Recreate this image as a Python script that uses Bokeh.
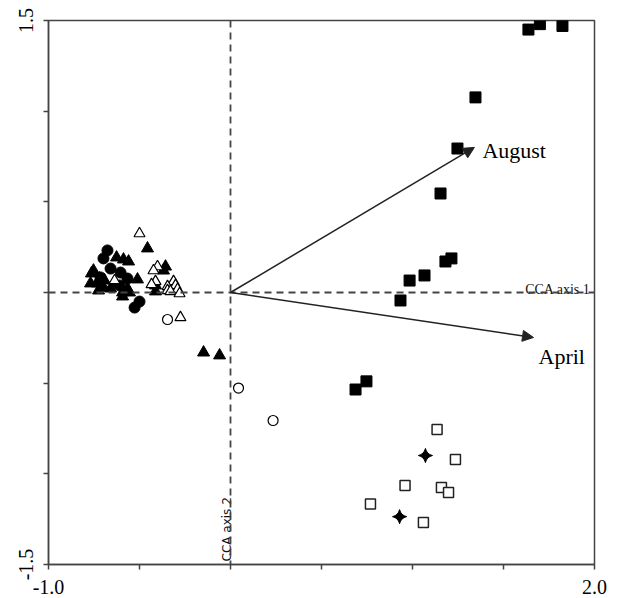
import numpy as np
from bokeh.plotting import figure
from bokeh.models import Span, Arrow, NormalHead, ColumnDataSource, FixedTicker
from bokeh.core.properties import value
from bokeh.embed import file_html
from bokeh.resources import INLINE

# ---- data ----
sq_fill_x = [1.637, 1.70, 1.824, 1.346, 1.247, 1.154, 1.214, 1.181, 1.066, 0.984, 0.934, 0.747, 0.687]
sq_fill_y = [1.45, 1.48, 1.47, 1.076, 0.794, 0.546, 0.188, 0.171, 0.094, 0.066, -0.044, -0.49, -0.535]

sq_open_x = [1.135, 1.236, 0.959, 1.159, 1.198, 0.769, 1.060]
sq_open_y = [-0.756, -0.921, -1.065, -1.076, -1.103, -1.167, -1.269]

star_x = [1.071, 0.929]
star_y = [-0.899, -1.236]

circ_fill_x = [-0.676, -0.698, -0.659, -0.604, -0.566, -0.610, -0.500, -0.527, -0.714]
circ_fill_y = [0.232, 0.188, 0.132, 0.110, 0.077, 0.039, -0.050, -0.083, 0.083]

circ_open_x = [-0.346, 0.044, 0.234]
circ_open_y = [-0.149, -0.527, -0.706]

tri_fill_x = [-0.456, -0.357, -0.368, -0.412, -0.412, -0.511, -0.560, -0.588, -0.626, -0.753, -0.764,
              -0.769, -0.731, -0.698, -0.725, -0.632, -0.593, -0.593, -0.555, -0.659, -0.692, -0.720,
              -0.566, -0.148, -0.060]
tri_fill_y = [0.243, 0.143, 0.121, 0.039, 0.006, 0.072, 0.171, 0.182, 0.193, 0.121, 0.105,
              0.050, 0.050, 0.028, 0.011, 0.050, 0.000, -0.022, 0.000, 0.022, 0.066, 0.077,
              0.022, -0.331, -0.347]

tri_open_x = [-0.500, -0.401, -0.423, -0.412, -0.434, -0.313, -0.302, -0.346, -0.291, -0.346, -0.330,
              -0.280, -0.275, -0.637]
tri_open_y = [0.325, 0.143, 0.121, 0.061, 0.044, 0.061, 0.039, 0.033, 0.017, 0.011, 0.006,
              -0.006, -0.138, 0.066]

arrow_names = ["August", "April"]
arrow_x = [1.34, 1.665]
arrow_y = [0.80, -0.248]

x_ticks = [-1.0, -0.5, 0.0, 0.5, 1.0, 1.5, 2.0]
y_ticks = [-1.5, -1.0, -0.5, 0.0, 0.5, 1.0, 1.5]
x_labels = {-1.0: "-1.0", 2.0: "2.0"}
y_labels = {-1.5: "-1.5", 1.5: "1.5"}

SERIF = "Liberation Serif"
AX = "#444444"

p = figure(frame_width=546, frame_height=544, x_range=(-1.0, 2.0), y_range=(-1.5, 1.5),
           output_backend="svg", toolbar_location=None,
           min_border_left=48, min_border_top=20, min_border_right=17, min_border_bottom=34)
p.grid.visible = False
p.outline_line_color = AX
p.outline_line_width = 1.5
p.background_fill_color = "white"
p.border_fill_color = "white"

for ax, ticks, labels in ((p.xaxis[0], x_ticks, x_labels), (p.yaxis[0], y_ticks, y_labels)):
    ax.ticker = FixedTicker(ticks=ticks)
    ax.major_label_overrides = {t: labels.get(t, "") for t in ticks}
    ax.axis_line_color = AX
    ax.axis_line_width = 1.5
    ax.major_tick_line_color = AX
    ax.major_tick_line_width = 1.5
    ax.major_tick_in = 0
    ax.major_tick_out = 5
    ax.minor_tick_line_color = None
    ax.major_label_text_font = SERIF
    ax.major_label_text_font_size = "20px"
    ax.major_label_text_color = "black"
p.xaxis.major_label_standoff = 10
p.yaxis.major_label_orientation = "vertical"
p.yaxis.major_label_standoff = 11

# dashed axes
p.add_layout(Span(location=0, dimension="width", line_color=AX, line_width=1.8, line_dash="7 5"))
p.add_layout(Span(location=0, dimension="height", line_color=AX, line_width=1.8, line_dash="7 5"))

# arrows
asrc = ColumnDataSource(dict(x0=[0, 0], y0=[0, 0], x1=arrow_x, y1=arrow_y, name=arrow_names))
p.add_layout(Arrow(x_start="x0", y_start="y0", x_end="x1", y_end="y1", source=asrc,
                   line_color="#222222", line_width=1.5,
                   end=NormalHead(size=11, fill_color="#222222", line_color="#222222")))

p.text(x=[arrow_x[0]], y=[arrow_y[0]], text=[arrow_names[0]], x_offset=8, y_offset=3,
       text_font=value(SERIF), text_font_size="22px", text_color="black",
       text_align="left", text_baseline="alphabetic")
p.text(x=[arrow_x[1]], y=[arrow_y[1]], text=[arrow_names[1]], x_offset=5, y_offset=19,
       text_font=value(SERIF), text_font_size="22px", text_color="black",
       text_align="left", text_baseline="alphabetic")

# axis captions
p.text(x=[2.0], y=[0.0], text=["CCA axis 1"], x_offset=-4, y_offset=-3,
       text_font=value(SERIF), text_font_size="14px", text_color="#111111",
       text_align="right", text_baseline="alphabetic")
p.text(x=[0.0], y=[-1.5], text=["CCA axis 2"], x_offset=-4, y_offset=-3, angle=np.pi / 2,
       text_font=value("DejaVu Sans"), text_font_size="12px", text_color="#111111",
       text_align="left", text_baseline="alphabetic")

# points
p.scatter(tri_fill_x, tri_fill_y, marker="triangle", size=12, fill_color="black", line_color="black")
p.scatter(circ_fill_x, circ_fill_y, marker="circle", size=11, fill_color="black", line_color="black")
p.scatter(tri_open_x, tri_open_y, marker="triangle", size=11, fill_color="white", line_color="black",
          line_width=1.2)
p.scatter(circ_open_x, circ_open_y, marker="circle", size=10, fill_color="white", line_color="black",
          line_width=1.2)
p.scatter(sq_fill_x, sq_fill_y, marker="square", size=11, fill_color="black", line_color="black")
p.scatter(sq_open_x, sq_open_y, marker="square", size=10, fill_color="white", line_color="#222222",
          line_width=1.5)
p.scatter(star_x, star_y, marker="square_pin", size=10, angle=np.pi / 4,
          fill_color="black", line_color="black")

open("out.html", "w").write(file_html(p, INLINE))
